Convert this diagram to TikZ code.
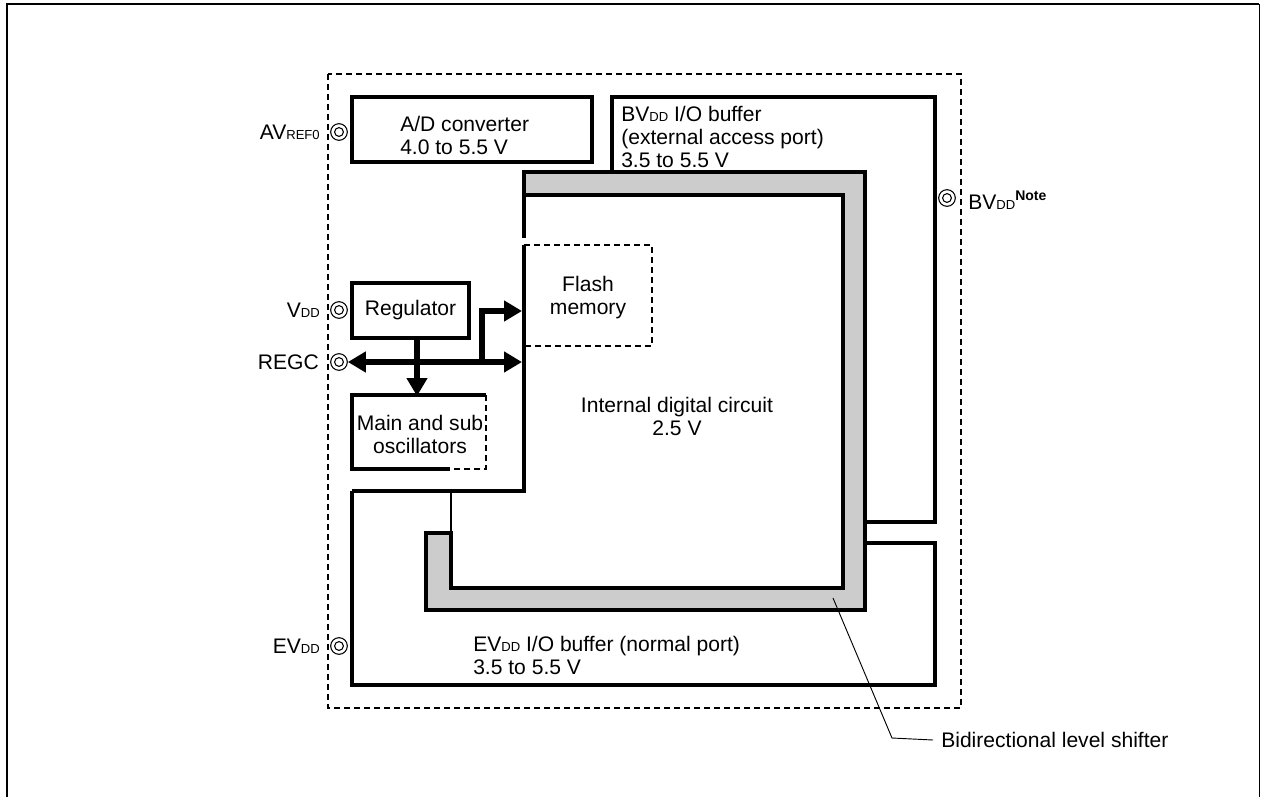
\documentclass[tikz,border=0pt]{standalone}
\usepackage{fontspec}
\setmainfont{Liberation Sans}
\usetikzlibrary{arrows.meta}
\newcommand\sbs[1]{{\fontsize{9.8}{10}\selectfont #1}}
\newcommand\noteup{\raisebox{7pt}{\fontsize{10.5}{10}\selectfont\bfseries Note}}
\tikzset{
  box/.style={line width=2.3pt},
  dashbox/.style={line width=2.1pt, dash pattern=on 4.5pt off 3pt},
  shifter/.style={line width=2.3pt, fill=black!20},
  txt/.style={inner sep=0pt, font=\fontsize{15.8}{17.2}\selectfont},
  pinc/.style={circle, draw, line width=0.8pt, minimum size=12.5pt, inner sep=0pt},
  bus/.style={line width=3.9pt},
  bushead/.style={-{Triangle[length=13.5pt,width=15pt]}},
  leader/.style={line width=0.7pt},
}
\begin{document}
\begin{tikzpicture}[x=0.75pt,y=-0.75pt]
\useasboundingbox (0,0) rectangle (1261,797);
% page frame
\draw[line width=1.5pt] (7,797) -- (7,4) -- (1259,4);
\draw[line width=0.75pt] (1259,4) -- (1259,797);
% chip outline
\draw[dashbox] (328,74) rectangle (961,708);
% level shifter (gray band)
\draw[shifter] (524,172) -- (865,172) -- (865,610) -- (426,610) -- (426,533)
  -- (451,533) -- (451,588) -- (843,588) -- (843,195) -- (524,195) -- cycle;
% internal digital circuit border
\draw[box] (524,172) -- (524,238);
\draw[box] (524,245) -- (524,491) -- (352,491);
\draw[line width=1.6pt] (451,491) -- (451,533);
% A/D converter
\draw[box] (352,97) rectangle (592,162);
% BVDD I/O buffer
\draw[box] (612,172) -- (612,97) -- (935,97) -- (935,522) -- (865,522);
% EVDD I/O buffer
\draw[box] (352,491) -- (352,685) -- (935,685) -- (935,543) -- (865,543);
% Flash memory
\draw[dashbox] (524,245) -- (652,245) -- (652,346) -- (524,346);
% Regulator
\draw[box] (352,283) rectangle (469,338);
% Oscillators
\draw[box] (450,469) -- (352,469) -- (352,395) -- (486,395);
\draw[dashbox] (486,395) -- (486,469) -- (450,469);

% texts
\node[txt, anchor=west, align=left] (adc) at (400,135) {A/D converter\\4.0 to 5.5 V};
\node[txt, anchor=west, align=left] (bvbuf) at (621,137) {BV\sbs{DD} I/O buffer\\(external access port)\\3.5 to 5.5 V};
\node[txt, align=center] (flash) at (588,298) {Flash\\memory};
\node[txt] (reg) at (410.5,310.5) {Regulator};
\node[txt, align=center] (osc) at (420,434) {Main and sub\\oscillators};
\node[txt, align=center] (core) at (677,416) {Internal digital circuit\\2.5 V};
\node[txt, anchor=west, align=left] (evbuf) at (473,655) {EV\sbs{DD} I/O buffer (normal port)\\3.5 to 5.5 V};

% pins
\node[pinc] (pav) at (339,132) {};
\node[pinc] (pvdd) at (339,310) {};
\node[pinc] (pregc) at (339,362) {};
\node[pinc] (pev) at (339,646) {};
\node[pinc] (pbv) at (947,198) {};
\foreach \p in {pav,pvdd,pregc,pev,pbv} \draw[line width=0.8pt] (\p.center) circle (3.3pt);
\node[txt, anchor=east] (lav) at (320,132) {AV\sbs{REF0}};
\node[txt, anchor=east] (lvdd) at (320,310) {V\sbs{DD}};
\node[txt, anchor=east] (lregc) at (319,362) {REGC};
\node[txt, anchor=east] (lev) at (320,646) {EV\sbs{DD}};
\node[txt, anchor=west] (lbv) at (968,200) {BV\sbs{DD}\noteup};

% power bus arrows
\coordinate (regbot) at (417,338);
\coordinate (osctop) at (417,396);
\coordinate (busr) at (522,362);
\coordinate (branch) at (482,362);
\coordinate (flashin) at (522,311);
\draw[bus, bushead] (regbot) -- (osctop);
\draw[bus, {Triangle[length=13.5pt,width=15pt]}-{Triangle[length=13.5pt,width=15pt]}] (pregc.east) -- (busr);
\draw[bus, bushead] (branch) |- (flashin);

% level shifter label
\coordinate (lsin) at (833,598);
\coordinate (lsbend) at (892,738);
\node[txt, anchor=west] (lslabel) at (941,740) {Bidirectional level shifter};
\draw[leader] (lsin) -- (lsbend) -- (lslabel.west -| 933,0);
\end{tikzpicture}
\end{document}
